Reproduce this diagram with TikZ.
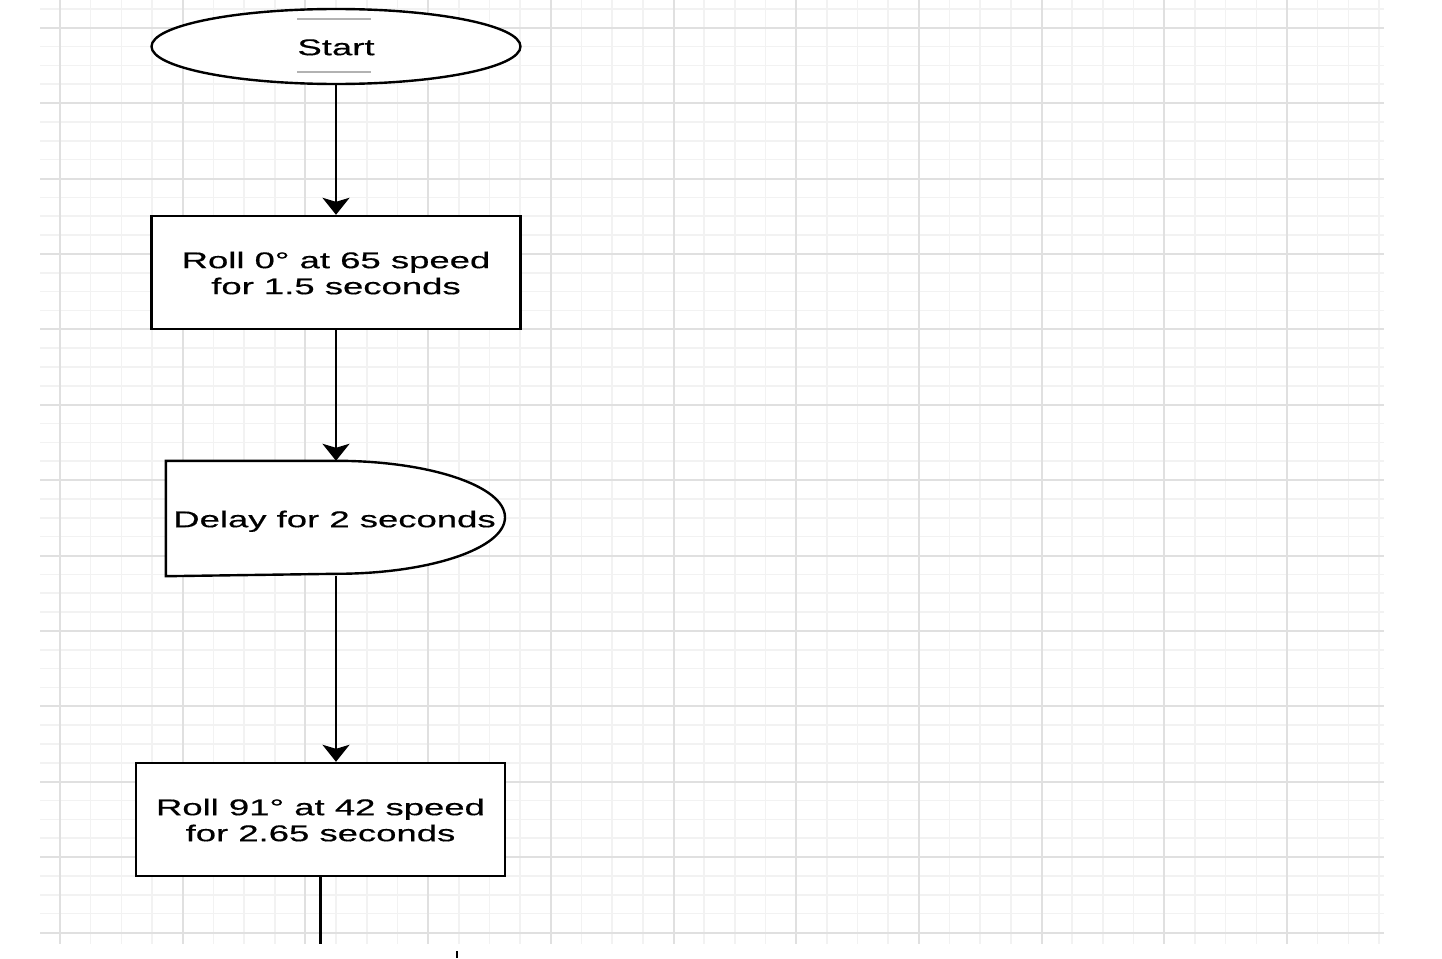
\documentclass[tikz,border=0pt]{standalone}
\usepackage{fontspec}
\setmainfont{Liberation Sans}[UprightFeatures={FakeBold=0.4}]
\usepackage{graphicx}
\usetikzlibrary{
	shapes.geometric,
	arrows.meta,
	positioning,
	calc
}
\newcommand{\widetext}[1]{\raisebox{-3.5pt}[\height][\depth]{\scalebox{1.6}[1]{\begin{tabular}{@{}c@{}}#1\end{tabular}}}}

\begin{document}
\begin{tikzpicture}[x=1pt, y=-1pt,
				box/.style={
					rectangle, draw, line width=2.4pt, fill=white,
					minimum width=369pt, minimum height=113pt, inner sep=0pt,
					align=center, font=\fontsize{22.8}{26}\selectfont
				},
				startbox/.style={
					box, ellipse, minimum height=75pt
				},
				delaybox/.style={
					box, draw=none, fill=none, minimum width=338pt
				},
				arrow/.style={-{Stealth[length=17pt, width=27pt, inset=4pt]}, line width=2.4pt},
				gridminor/.style={black!5, line width=1.6pt},
				gridmajor/.style={black!12, line width=2pt},
				]
				
				\useasboundingbox (0,0) rectangle (1442,958);
				
				%grid
				\foreach \i in {0,...,43}
					\draw[gridminor] ({60+\i*30.675},0) -- ++(0,944);
				\foreach \j in {0,...,49}
					\draw[gridminor] (40,{8.85+\j*18.85}) -- ++(1344,0);
				\foreach \i in {0,...,10}
					\draw[gridmajor] ({60+\i*122.7},0) -- ++(0,944);
				\foreach \j in {0,...,12}
					\draw[gridmajor] (40,{27.7+\j*75.4}) -- ++(1344,0);
				
				%start
				\node[startbox] (start) at (336,46.5) {\widetext{Start}};
				\draw[gray!60, line width=1.4pt] (297,19) -- (371,19);
				\draw[gray!60, line width=1.4pt] (297,72) -- (371,72);
				
				%first roll
				\node[box] (roll1) at (336,272.5) {\widetext{Roll 0° at 65 speed\\for 1.5 seconds}};
				\draw[arrow] (start) -- (roll1);
				
				%delay
				\node[delaybox] (delay) at (336,518.5) {};
				\draw[line width=2.4pt, fill=white] (delay.north west) -- (delay.north)
					arc[start angle=90, end angle=-90, x radius=169pt, y radius=56.5pt]
					-- (delay.south west) -- cycle;
				\node[delaybox, xshift=-1.5pt] (delaytext) at (delay) {\widetext{Delay for 2 seconds}};
				\draw[arrow] (roll1) -- (delay);
				
				%second roll
				\node[box] (roll2) at (320.5,819.5) {\widetext{Roll 91° at 42 speed\\for 2.65 seconds}};
				\draw[arrow] (delay.south) -- (delay.south |- roll2.north);
				
				\coordinate (tail) at (320.5,944);
				\draw[line width=2.4pt] (roll2) -- (tail);
				
				\draw[line width=1.8pt] (457,951) -- (457,958);
\end{tikzpicture}
\end{document}
